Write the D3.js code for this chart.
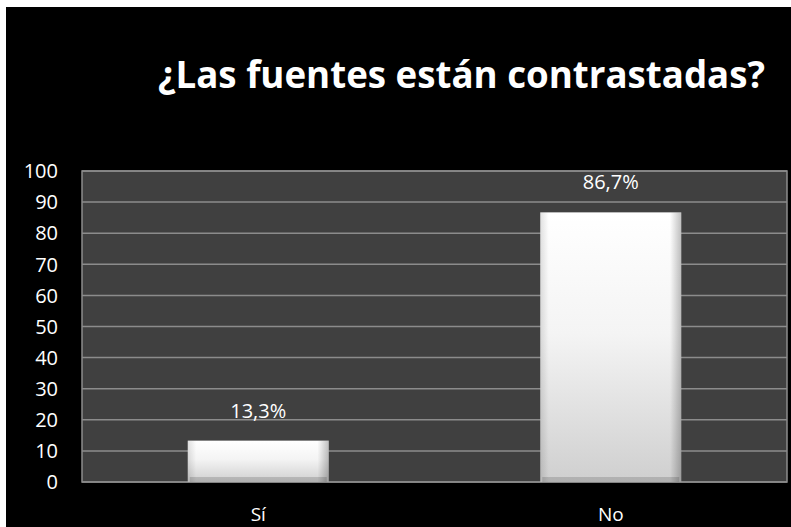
<!DOCTYPE html>
<html>
<head>
<meta charset="utf-8">
<script src="https://cdn.jsdelivr.net/npm/d3@7"></script>
<style>
  html, body { margin: 0; padding: 0; background: #fff; }
  svg { display: block; }
</style>
</head>
<body>
<div class="app"></div>
<script>
// chart data
var categories = ["Sí", "No"];
var values = [13.3, 86.7];
var valueLabels = ["13,3%", "86,7%"];
var yTicks = [0, 10, 20, 30, 40, 50, 60, 70, 80, 90, 100];
var title = "¿Las fuentes están contrastadas?";

var width = 791, height = 527;
var plot = {left: 82, top: 171, right: 787, bottom: 482};

var svg = d3.select(".app").append("svg").attr("width", width).attr("height", height);

// black panel with white strip on top/left
svg.append("rect").attr("x", 0).attr("y", 0).attr("width", width).attr("height", height).attr("fill", "#fff");
svg.append("rect").attr("x", 6).attr("y", 7).attr("width", width - 6).attr("height", height - 7).attr("fill", "#000");

var defs = svg.append("defs");
var vg = defs.append("linearGradient").attr("id", "barV").attr("x1", 0).attr("y1", 0).attr("x2", 0).attr("y2", 1);
vg.append("stop").attr("offset", "0%").attr("stop-color", "#ffffff");
vg.append("stop").attr("offset", "45%").attr("stop-color", "#f4f4f4");
vg.append("stop").attr("offset", "100%").attr("stop-color", "#cfcfcf");
var hg = defs.append("linearGradient").attr("id", "barH").attr("x1", 0).attr("y1", 0).attr("x2", 1).attr("y2", 0);
hg.append("stop").attr("offset", "0%").attr("stop-color", "#000").attr("stop-opacity", 0.12);
hg.append("stop").attr("offset", "6%").attr("stop-color", "#000").attr("stop-opacity", 0);
hg.append("stop").attr("offset", "92%").attr("stop-color", "#000").attr("stop-opacity", 0);
hg.append("stop").attr("offset", "100%").attr("stop-color", "#000").attr("stop-opacity", 0.25);

var x = d3.scaleBand().domain(categories).range([plot.left, plot.right]).paddingInner(0.6).paddingOuter(0.3);
var y = d3.scaleLinear().domain([0, 100]).range([plot.bottom, plot.top]);

// plot area
svg.append("rect")
  .attr("x", plot.left).attr("y", plot.top)
  .attr("width", plot.right - plot.left).attr("height", plot.bottom - plot.top)
  .attr("fill", "#404040");

// gridlines
svg.append("g").selectAll("line").data(yTicks).enter().append("line")
  .attr("x1", plot.left).attr("x2", plot.right)
  .attr("y1", function(d){ return y(d); }).attr("y2", function(d){ return y(d); })
  .attr("stroke", "#8c8c8c").attr("stroke-width", 1.5);

svg.append("rect")
  .attr("x", plot.left).attr("y", plot.top)
  .attr("width", plot.right - plot.left).attr("height", plot.bottom - plot.top)
  .attr("fill", "none").attr("stroke", "#8c8c8c").attr("stroke-width", 1.5);

// bars
var bars = svg.append("g").selectAll("g").data(values).enter().append("g");
bars.append("rect")
  .attr("x", function(d, i){ return x(categories[i]); })
  .attr("y", function(d){ return y(d); })
  .attr("width", x.bandwidth())
  .attr("height", function(d){ return y(0) - y(d); })
  .attr("fill", "url(#barV)");
bars.append("rect")
  .attr("x", function(d, i){ return x(categories[i]); })
  .attr("y", function(d){ return y(d); })
  .attr("width", x.bandwidth())
  .attr("height", function(d){ return y(0) - y(d); })
  .attr("fill", "url(#barH)");
bars.append("rect")
  .attr("x", function(d, i){ return x(categories[i]) + 2; })
  .attr("y", y(0) - 5)
  .attr("width", x.bandwidth() - 4)
  .attr("height", 5)
  .attr("fill", "#000").attr("fill-opacity", 0.15);

var font = "Open Sans, sans-serif";

// value labels
svg.append("g").selectAll("text").data(values).enter().append("text")
  .attr("x", function(d, i){ return x(categories[i]) + x.bandwidth() / 2; })
  .attr("y", function(d){ return y(d) - 23; })
  .attr("text-anchor", "middle")
  .attr("font-family", font).attr("font-size", 20)
  .attr("fill", "#fff")
  .text(function(d, i){ return valueLabels[i]; });

// y axis labels
svg.append("g").selectAll("text").data(yTicks).enter().append("text")
  .attr("x", 58)
  .attr("y", function(d){ return y(d); })
  .attr("dy", "0.36em")
  .attr("text-anchor", "end")
  .attr("font-family", font).attr("font-size", 20)
  .attr("fill", "#fff")
  .text(function(d){ return d; });

// category labels
svg.append("g").selectAll("text").data(categories).enter().append("text")
  .attr("x", function(d){ return x(d) + x.bandwidth() / 2; })
  .attr("y", 521)
  .attr("text-anchor", "middle")
  .attr("font-family", font).attr("font-size", 19)
  .attr("fill", "#fff")
  .text(function(d){ return d; });

// title
svg.append("text")
  .attr("x", 158).attr("y", 88)
  .attr("font-family", font).attr("font-size", 37).attr("font-weight", "bold")
  .attr("fill", "#fff")
  .attr("textLength", 607).attr("lengthAdjust", "spacingAndGlyphs")
  .text(title);
</script>
</body>
</html>
